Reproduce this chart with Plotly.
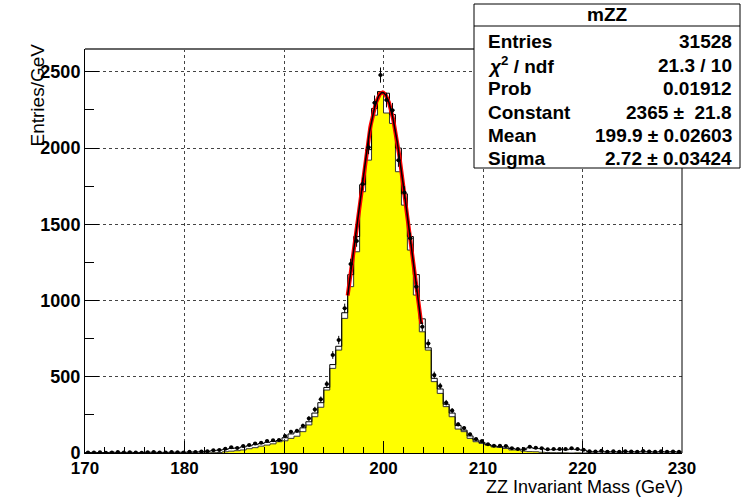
import numpy as np
import plotly.graph_objects as go

# ---------------- data ----------------
X_MIN, X_MAX, N_BINS = 170.0, 230.0, 100
BIN_W = (X_MAX - X_MIN) / N_BINS

# data points (with sqrt(N) errors)
data_points = [4, 3, 5, 2, 4, 6, 3, 5, 4, 2, 5, 7, 4, 3, 6, 5, 4, 8,
               6, 10, 12, 18, 20, 28, 38, 33, 46, 52, 63, 68, 79, 83, 85, 111,
               140, 146, 179, 227, 286, 352, 452, 643, 741, 949, 1239, 1390, 1764, 2005,
               2297, 2479, 2315, 2249, 1921, 1709, 1408, 1091, 828, 719, 511, 439, 330,
               278, 188, 164, 123, 92, 79, 57, 48, 48, 46, 31, 26, 26, 41, 35, 31, 24,
               26, 26, 26, 31, 26, 22,
               12, 10, 14, 9, 11, 8, 12, 10, 9, 13, 10, 8, 11, 9, 10, 8]

# mZZ histogram (black outline, fitted)
mzz_hist = [3, 4, 3, 3, 5, 4, 4, 5, 3, 4, 5, 5, 4, 4, 5, 5, 5, 6,
            7, 8, 11, 15, 19, 24, 30, 33, 40, 47, 55, 62, 70, 76, 82, 100,
            125, 138, 165, 205, 262, 330, 430, 580, 700, 920, 1170, 1420, 1760, 1990,
            2260, 2370, 2360, 2220, 2000, 1700, 1420, 1170, 880, 690, 490, 420, 320,
            262, 180, 150, 112, 85, 70, 55, 46, 42, 40, 30, 25, 24, 35, 30, 28, 22,
            22, 22, 21, 25, 22, 18,
            10, 9, 11, 8, 9, 7, 10, 9, 8, 11, 9, 7, 9, 8, 9, 7]

# yellow filled histogram
yellow_hist = [0] * 20 + [1, 2, 3, 8, 12, 15, 20, 28, 35, 45, 52, 60, 74, 80,
               96, 110, 140, 184, 238, 300, 413, 555, 675, 883, 1091, 1320, 1714, 1921,
               2216, 2370, 2230, 2162, 1845, 1626, 1331, 1036, 795, 675, 468, 391, 304,
               238, 157, 140, 96, 74, 63, 52, 40, 37, 30, 20, 20, 12, 9, 8, 5, 3,
               2, 2, 1, 0, 1, 0, 2] + [0] * 16

# Gaussian fit result (from the stats box)
FIT_CONST, FIT_MEAN, FIT_SIGMA = 2365.0, 199.9, 2.72
FIT_RANGE = (196.4, 203.8)

stats_rows = [("Entries", "31528"),
              ("<i>χ</i><sup>2</sup> / ndf", "21.3 / 10"),
              ("Prob", "0.01912"),
              ("Constant", "2365 ±  21.8"),
              ("Mean", "199.9 ± 0.02603"),
              ("Sigma", "2.72 ± 0.03424")]

# ---------------- figure ----------------
W, H = 743, 497
ML, MR, MT, MB = 85, 61, 49, 44
PW, PH = W - ML - MR, H - MT - MB


def px(xp):
    return (xp - ML) / PW


def py(yp):
    return (H - MB - yp) / PH


edges = X_MIN + BIN_W * np.arange(N_BINS + 1)
centers = X_MIN + BIN_W * (np.arange(N_BINS) + 0.5)

fig = go.Figure()

# yellow filled histogram
fig.add_trace(go.Scatter(
    x=edges, y=list(yellow_hist) + [yellow_hist[-1]],
    mode="lines", line=dict(shape="hv", color="#333333", width=1),
    fill="tozeroy", fillcolor="#ffff00", hoverinfo="skip", showlegend=False))

# black outline histogram
fig.add_trace(go.Scatter(
    x=edges, y=list(mzz_hist) + [mzz_hist[-1]],
    mode="lines", line=dict(shape="hv", color="black", width=1),
    hoverinfo="skip", showlegend=False))

# fit curve
xf = np.linspace(FIT_RANGE[0], FIT_RANGE[1], 200)
yf = FIT_CONST * np.exp(-0.5 * ((xf - FIT_MEAN) / FIT_SIGMA) ** 2)
fig.add_trace(go.Scatter(x=xf, y=yf, mode="lines",
                         line=dict(color="#ff0000", width=4),
                         hoverinfo="skip", showlegend=False))
fig.add_trace(go.Scatter(x=xf, y=yf, mode="lines",
                         line=dict(color="black", width=1.5),
                         hoverinfo="skip", showlegend=False))

# data points
dp = np.array(data_points, dtype=float)
fig.add_trace(go.Scatter(
    x=centers, y=dp, mode="markers",
    marker=dict(symbol="circle", size=4, color="black"),
    error_y=dict(type="data", array=np.sqrt(dp), color="black", thickness=1, width=0),
    error_x=dict(type="constant", value=0.2, color="black", thickness=1.5, width=0),
    showlegend=False))

tickfont = dict(family="Liberation Sans", size=17, color="black", weight="bold")

fig.update_xaxes(range=[X_MIN, X_MAX], dtick=10, tick0=170, ticks="inside",
                 ticklen=12, tickcolor="black", showline=True, linecolor="black",
                 linewidth=1, showgrid=True, gridcolor="#444444", griddash="dot",
                 gridwidth=1, tickfont=tickfont, zeroline=False,
                 minor=dict(dtick=2, ticks="inside", ticklen=6, tickcolor="black",
                            showgrid=False))
fig.update_yaxes(range=[0, 2650], dtick=500, tick0=0, ticks="inside",
                 ticklen=14, tickcolor="black", showline=True, linecolor="black",
                 linewidth=1, showgrid=True, gridcolor="#444444", griddash="dot",
                 gridwidth=1, tickfont=dict(family="Liberation Sans", size=18,
                                            color="black", weight="bold"),
                 zeroline=False,
                 minor=dict(dtick=250, ticks="inside", ticklen=9, tickcolor="black",
                            showgrid=False))

shapes = [
    # frame top/right
    dict(type="line", xref="paper", yref="paper", x0=0, x1=1, y0=1, y1=1,
         line=dict(color="#666666", width=2)),
    dict(type="line", xref="paper", yref="paper", x0=1, x1=1, y0=0, y1=1,
         line=dict(color="black", width=1)),
    # stats box
    dict(type="rect", xref="paper", yref="paper", x0=px(474), x1=px(740),
         y0=py(168), y1=py(4), line=dict(color="black", width=1), fillcolor="white",
         layer="above"),
    dict(type="line", xref="paper", yref="paper", x0=px(474), x1=px(740),
         y0=py(26), y1=py(26), line=dict(color="black", width=1), layer="above"),
]

SF = dict(family="Liberation Sans", size=19, color="black")
annotations = [
    dict(text="ZZ Invariant Mass (GeV)", xref="paper", yref="paper",
         x=px(684), y=py(498), xanchor="right", yanchor="bottom", showarrow=False,
         borderpad=0,
         font=dict(family="Liberation Sans", size=18, color="black")),
    dict(text="Entries/GeV", xref="paper", yref="paper", textangle=-90,
         x=px(37), y=py(42), xanchor="center", yanchor="top", showarrow=False,
         font=dict(family="Liberation Sans", size=19, color="black")),
    dict(text="<b>mZZ</b>", xref="paper", yref="paper", x=px(607), y=py(15),
         xanchor="center", yanchor="middle", showarrow=False, font=SF),
]
row_y = [42, 65, 88, 112, 135, 158]
for (lab, val), yy in zip(stats_rows, row_y):
    annotations.append(dict(text="<b>" + lab + "</b>", xref="paper", yref="paper",
                            x=px(486), y=py(yy), xanchor="left", yanchor="middle",
                            showarrow=False, font=SF))
    annotations.append(dict(text="<b>" + val + "</b>", xref="paper", yref="paper",
                            x=px(734), y=py(yy), xanchor="right", yanchor="middle",
                            showarrow=False, font=SF))

fig.update_layout(width=W, height=H, margin=dict(l=ML, r=MR, t=MT, b=MB),
                  paper_bgcolor="white", plot_bgcolor="white",
                  shapes=shapes, annotations=annotations, showlegend=False)

fig.write_html("out.html")
